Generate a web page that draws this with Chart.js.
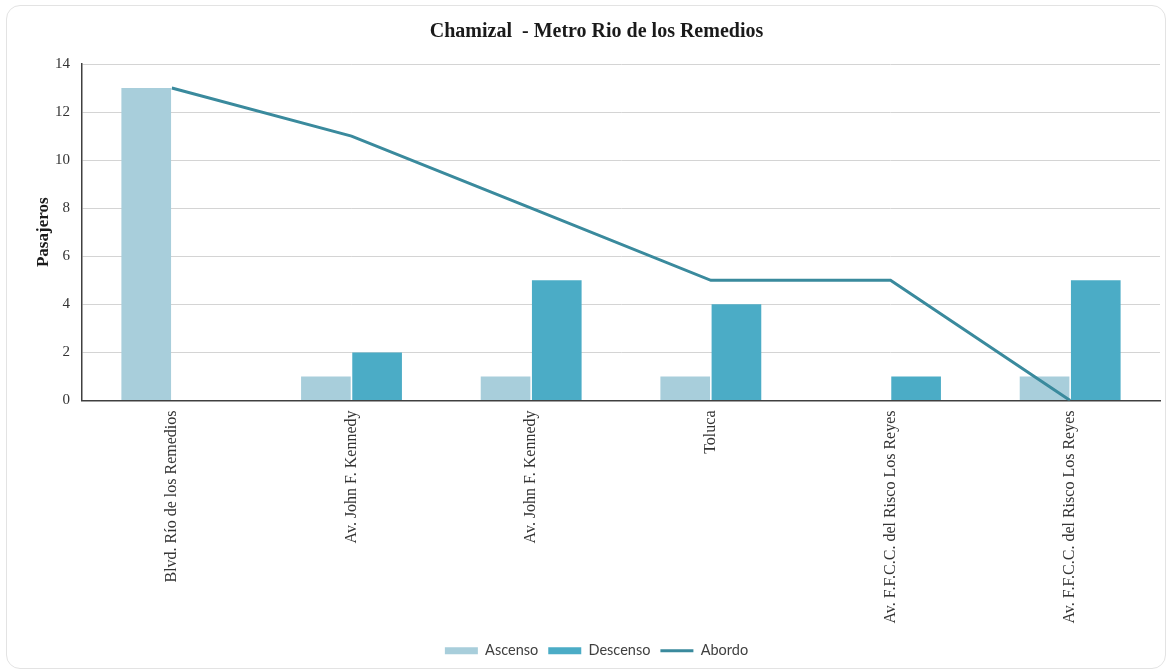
<!DOCTYPE html>
<html>
<head>
<meta charset="utf-8">
<script src="https://cdn.jsdelivr.net/npm/chart.js@4"></script>
<style>
  html, body { margin: 0; padding: 0; background: #fff; }
  .card { position: absolute; left: 6px; top: 5px; width: 1160px; height: 664px; border: 1px solid #e3e3e3; border-radius: 14px; box-sizing: border-box; }
  .wrap { position: absolute; left: 0; top: 0; width: 1172px; height: 672px; }
</style>
</head>
<body>
<div class="card"></div>
<div class="wrap"><canvas id="myChart"></canvas></div>
<script>
const labels = [
    'Blvd. Río de los Remedios',
    'Av. John F. Kennedy',
    'Av. John F. Kennedy',
    'Toluca',
    'Av. F.F.C.C. del Risco Los Reyes',
    'Av. F.F.C.C. del Risco Los Reyes'
];
const ascenso = [13, 1, 1, 1, 0, 1];
const descenso = [0, 2, 5, 4, 1, 5];
const abordo = [13, 11, 8, 5, 5, 0];
const yTicks = [0, 2, 4, 6, 8, 10, 12, 14];
const legendOrder = ['Ascenso', 'Descenso', 'Abordo'];

const serif = '"Liberation Serif", "Times New Roman", serif';

const data = {
    labels: labels,
    datasets: [
        {
            type: 'line',
            label: 'Abordo',
            data: abordo,
            borderColor: '#3A8A9D',
            backgroundColor: '#3A8A9D',
            borderWidth: 3,
            pointRadius: 0,
            pointStyle: 'line',
            tension: 0,
            order: 0
        },
        {
            type: 'bar',
            label: 'Ascenso',
            data: ascenso,
            backgroundColor: '#A8CEDB',
            borderWidth: 0,
            pointStyle: 'rect',
            categoryPercentage: 0.57,
            barPercentage: 0.97,
            order: 1
        },
        {
            type: 'bar',
            label: 'Descenso',
            data: descenso,
            backgroundColor: '#4BACC6',
            borderWidth: 0,
            pointStyle: 'rect',
            categoryPercentage: 0.57,
            barPercentage: 0.97,
            order: 1
        }
    ]
};

const chart = new Chart(document.getElementById('myChart'), {
    type: 'bar',
    data: data,
    options: {
        responsive: true,
        maintainAspectRatio: false,
        animation: false,
        layout: { padding: { left: 33, right: 12, top: 10, bottom: 4 } },
        plugins: {
            title: {
                display: true,
                text: 'Chamizal  - Metro Rio de los Remedios',
                color: '#1a1a1a',
                font: { family: serif, size: 20, weight: 'bold' },
                padding: { top: 10, bottom: 20 }
            },
            legend: {
                position: 'bottom',
                labels: {
                    sort: (a, b) => legendOrder.indexOf(a.text) - legendOrder.indexOf(b.text),
                    usePointStyle: true,
                    pointStyleWidth: 33,
                    boxHeight: 7,
                    padding: 10,
                    color: '#404040',
                    font: { family: 'Lato, "Open Sans", sans-serif', size: 14.5 }
                }
            },
            tooltip: { enabled: false }
        },
        scales: {
            x: {
                grid: { display: false, drawTicks: false },
                border: { color: '#404040', width: 1.5 },
                ticks: {
                    color: '#333',
                    font: { family: serif, size: 16 },
                    minRotation: 90,
                    maxRotation: 90,
                    padding: 10,
                    autoSkip: false
                },
                afterFit: (scale) => { scale.height = 233; }
            },
            y: {
                min: 0,
                max: 14,
                afterBuildTicks: (scale) => { scale.ticks = yTicks.map(v => ({ value: v })); },
                grid: { color: '#d4d4d4', drawTicks: false },
                border: { color: '#404040', width: 1.5 },
                ticks: {
                    color: '#333',
                    font: { family: serif, size: 15 },
                    padding: 12
                },
                title: {
                    display: true,
                    text: 'Pasajeros',
                    color: '#1a1a1a',
                    font: { family: serif, size: 17, weight: 'bold' },
                    padding: { top: 0, bottom: 4 }
                },
                afterFit: (scale) => { scale.width = 49; }
            }
        }
    }
});
</script>
</body>
</html>
